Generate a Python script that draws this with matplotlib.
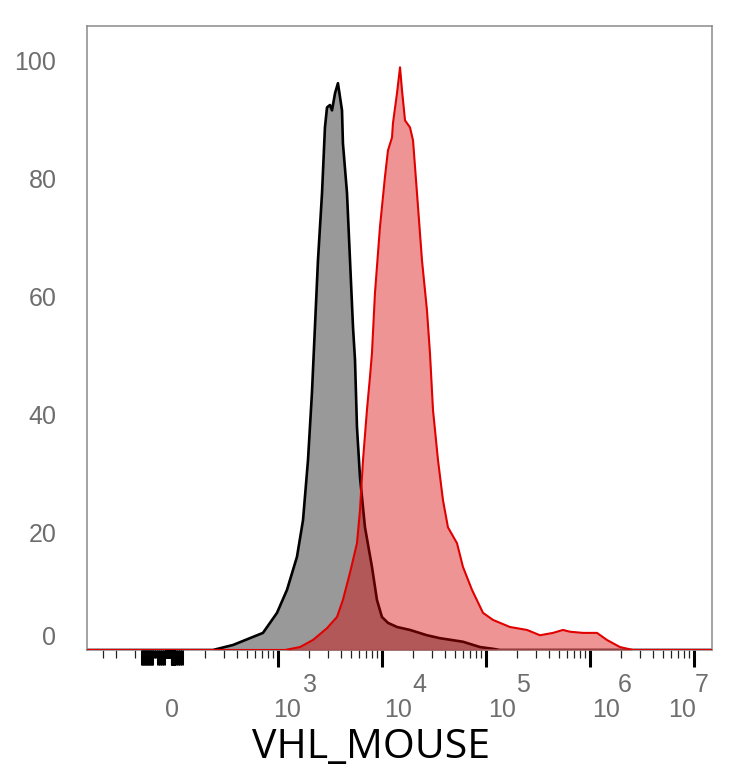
import numpy as np
import matplotlib
matplotlib.use("Agg")
import matplotlib.pyplot as plt
from matplotlib.ticker import FixedLocator, NullFormatter

# histogram outlines, x as log10(intensity), y as % of max
ctrl_log = [2.373, 2.566, 2.854, 2.989, 3.085, 3.181, 3.239, 3.287, 3.325, 3.383,
            3.422, 3.450, 3.470, 3.498, 3.518, 3.547, 3.575, 3.614, 3.623, 3.662,
            3.691, 3.720, 3.739, 3.758, 3.787, 3.835, 3.902, 3.950, 3.998, 4.056,
            4.143, 4.268, 4.431, 4.556, 4.777, 4.941, 5.066, 5.133]
ctrl_pct = [0.0, 0.85, 2.9, 6.3, 10.2, 15.8, 22.0, 32.2, 43.6, 66.1,
            77.5, 88.6, 92.0, 92.4, 91.5, 94.4, 96.1, 91.5, 85.9, 77.5,
            66.1, 54.7, 49.2, 37.8, 29.3, 20.8, 14.1, 8.5, 5.6, 4.6,
            3.9, 3.4, 2.5, 2.0, 1.4, 0.5, 0.2, 0.0]

vhl_log = [3.066, 3.210, 3.335, 3.470, 3.566, 3.623, 3.691, 3.758, 3.787, 3.816,
           3.854, 3.883, 3.902, 3.931, 3.979, 4.027, 4.056, 4.095, 4.104, 4.143,
           4.172, 4.191, 4.220, 4.268, 4.297, 4.335, 4.383, 4.431, 4.460, 4.489,
           4.537, 4.585, 4.633, 4.720, 4.777, 4.864, 4.970, 5.066, 5.229, 5.393,
           5.518, 5.643, 5.739, 5.806, 5.931, 6.066, 6.162, 6.287, 6.412, 6.508]
vhl_pct = [0.0, 0.5, 1.7, 3.7, 5.6, 8.5, 13.1, 18.1, 23.7, 32.2,
           40.7, 46.3, 50.3, 60.5, 71.7, 80.2, 84.7, 86.9, 89.3, 94.4,
           98.8, 94.9, 89.8, 88.6, 86.4, 77.5, 66.1, 57.6, 50.3, 40.7,
           32.2, 25.4, 20.8, 18.1, 14.1, 10.2, 6.3, 5.1, 3.9, 3.4,
           2.5, 2.9, 3.4, 3.1, 2.9, 2.9, 1.7, 0.5, 0.0, 0.0]

decades = [3, 4, 5, 6, 7]
y_ticks = [0, 20, 40, 60, 80, 100]
x_label = "VHL_MOUSE"

XMIN, XMAX = -573, 1.486e7
LINTHRESH, LINSCALE = 100, 0.036

fig = plt.figure(figsize=(7.34, 7.68), dpi=100)
ax = fig.add_axes([87 / 734, 118 / 768, 625 / 734, 624 / 768])

gx = np.concatenate([[XMIN], np.power(10.0, ctrl_log), [XMAX]])
gy = np.concatenate([[0], ctrl_pct, [0]])
rx = np.concatenate([[XMIN], np.power(10.0, vhl_log), [XMAX]])
ry = np.concatenate([[0], vhl_pct, [0]])

ax.fill_between(gx, gy, color="#999999", lw=0, zorder=1)
ax.plot(gx, gy, color="black", lw=1.9, zorder=2)
ax.fill_between(rx, ry, color="#D80000", alpha=0.42, lw=0, zorder=3)
ax.plot(rx, ry, color="#E00000", lw=1.5, zorder=4)

ax.set_xscale("symlog", linthresh=LINTHRESH, linscale=LINSCALE, base=10)
ax.set_xlim(XMIN, XMAX)
ax.set_ylim(0, 105.8)

for s in ax.spines.values():
    s.set_color("#8a8a8a")
    s.set_linewidth(1.1)

# x ticks: decades long, minors short
major = [10.0 ** d for d in decades]
minor = [-400, -300, -200] + [m * 10.0 ** k for k in range(2, 7) for m in range(2, 10)]
ax.xaxis.set_major_locator(FixedLocator(major))
ax.xaxis.set_minor_locator(FixedLocator(minor))
ax.xaxis.set_major_formatter(NullFormatter())
ax.xaxis.set_minor_formatter(NullFormatter())
ax.tick_params(axis="x", which="major", length=12, width=2.2, color="black")
ax.tick_params(axis="x", which="minor", length=6, width=0.9, color="#222222")

# dense ticks around zero
ax2 = ax.twiny()
ax2.set_xscale("symlog", linthresh=LINTHRESH, linscale=LINSCALE, base=10)
ax2.set_xlim(XMIN, XMAX)
blob_long = list(range(-170, -130, 5)) + list(range(-120, -100, 5)) + list(range(50, 125, 5))
blob_short = list(range(-170, 125, 5))
ax2.xaxis.set_major_locator(FixedLocator(blob_long))
ax2.xaxis.set_minor_locator(FixedLocator(blob_short))
ax2.xaxis.set_major_formatter(NullFormatter())
ax2.xaxis.set_minor_formatter(NullFormatter())
ax2.xaxis.set_ticks_position("bottom")
ax2.tick_params(axis="x", which="major", length=10.5, width=2.2, color="black")
ax2.tick_params(axis="x", which="minor", length=5.5, width=2.2, color="black")
for s in ax2.spines.values():
    s.set_visible(False)

# y ticks: labels only
ax.set_yticks(y_ticks, labels=[str(v) for v in y_ticks])
ax.tick_params(axis="y", length=0, pad=22, labelsize=18, labelcolor="#6e6e6e")
for lab in ax.get_yticklabels():
    lab.set_fontfamily("Liberation Sans")
ax.get_yticklabels()[0].set_verticalalignment("bottom")

# x tick labels, drawn as "10" with a raised exponent
lab_kw = dict(xycoords=("data", "axes fraction"), textcoords="offset pixels",
              ha="center", va="center", fontsize=18, color="#6e6e6e",
              family="Liberation Sans", annotation_clip=False)
ax.annotate("0", xy=(0, 0), xytext=(2, -60), **lab_kw)
base_dx = [9, 16, 16, 16, -12]
exp_dx = [32, 37, 37, 35, 8]
for d, bdx, edx in zip(decades, base_dx, exp_dx):
    ax.annotate("10", xy=(10.0 ** d, 0), xytext=(bdx, -60), **lab_kw)
    ax.annotate(str(d), xy=(10.0 ** d, 0), xytext=(edx, -35), **lab_kw)

ax.set_xlabel(x_label, fontsize=29.5, family="Open Sans", color="black")
ax.xaxis.set_label_coords((371 - 87) / 625, (650 - 758) / 624)
ax.xaxis.label.set_verticalalignment("baseline")

fig.savefig("out.png", dpi=100)
